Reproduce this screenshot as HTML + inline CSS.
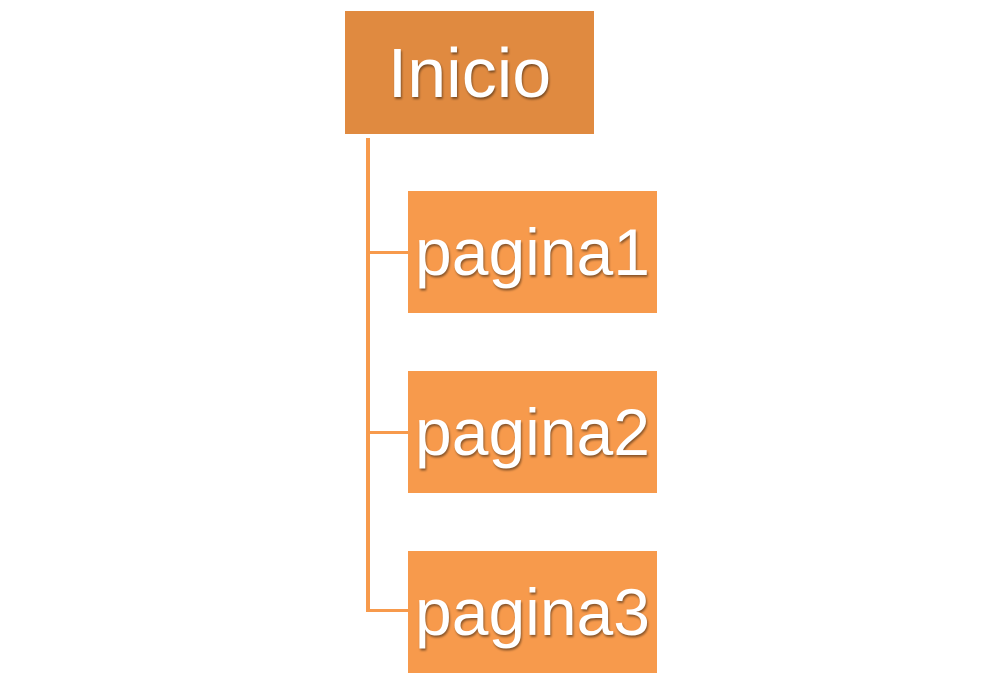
<!DOCTYPE html>
<html><head><style>
body{margin:0;width:1002px;height:679px;background:#fff;position:relative;overflow:hidden;font-family:"Liberation Sans",sans-serif}
.b{position:absolute;color:#fff;display:flex;align-items:center;justify-content:center;font-size:66px;text-shadow:1px 2px 2px rgba(0,0,0,0.45)}
.c{background:#F79A4C;left:408px;width:249px;height:122px}
.l{position:absolute;background:#F79A4C}
</style></head><body>
<div class="b" style="left:345px;top:11px;width:249px;height:123px;background:#E08A40;font-size:70px">Inicio</div>
<div class="l" style="left:366px;top:138px;width:4px;height:474px"></div>
<div class="l" style="left:366px;top:251px;width:42px;height:3px"></div>
<div class="l" style="left:366px;top:431px;width:42px;height:3px"></div>
<div class="l" style="left:366px;top:609px;width:42px;height:3px"></div>
<div class="b c" style="top:191px">pagina1</div>
<div class="b c" style="top:371px">pagina2</div>
<div class="b c" style="top:551px">pagina3</div>
</body></html>
